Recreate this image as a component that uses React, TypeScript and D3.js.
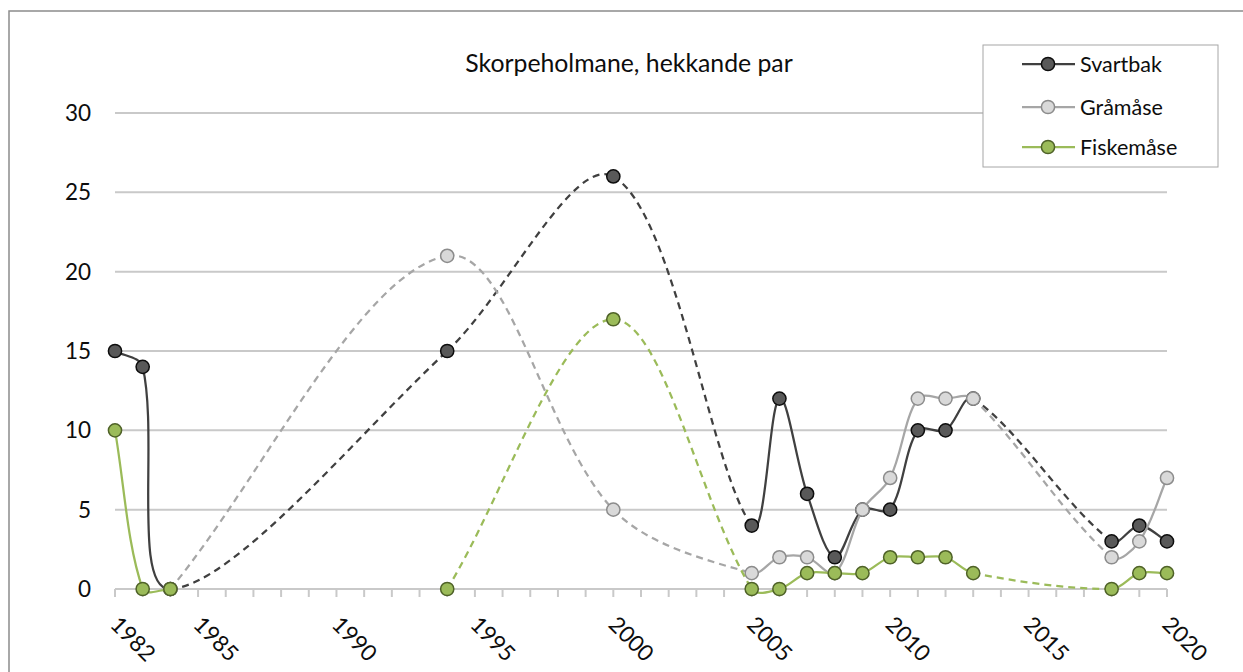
import React from "react";
import * as d3 from "d3";

const WIDTH = 1243;
const HEIGHT = 672;

const TITLE = "Skorpeholmane, hekkande par";
const seriesNames = ["Svartbak", "Gråmåse", "Fiskemåse"];

const svartbakYears = [1982, 1983, 1984, 1994, 2000, 2005, 2006, 2007, 2008, 2009, 2010, 2011, 2012, 2013, 2018, 2019, 2020];
const svartbakValues = [15, 14, 0, 15, 26, 4, 12, 6, 2, 5, 5, 10, 10, 12, 3, 4, 3];
const svartbakBreaks: number[] = [];

const gramaseYears = [1984, 1994, 2000, 2005, 2006, 2007, 2008, 2009, 2010, 2011, 2012, 2013, 2018, 2019, 2020];
const gramaseValues = [0, 21, 5, 1, 2, 2, 1, 5, 7, 12, 12, 12, 2, 3, 7];
const gramaseBreaks: number[] = [];

const fiskemaseYears = [1982, 1983, 1984, 1994, 2000, 2005, 2006, 2007, 2008, 2009, 2010, 2011, 2012, 2013, 2018, 2019, 2020];
const fiskemaseValues = [10, 0, 0, 0, 17, 0, 0, 1, 1, 1, 2, 2, 2, 1, 0, 1, 1];
const fiskemaseBreaks = [1984]; // no line drawn after this year

const xTickLabels = [1982, 1985, 1990, 1995, 2000, 2005, 2010, 2015, 2020];
const yTicks = [0, 5, 10, 15, 20, 25, 30];

const styles = [
  { line: "#404040", fill: "#595959", stroke: "#0d0d0d" },
  { line: "#a6a6a6", fill: "#d9d9d9", stroke: "#8c8c8c" },
  { line: "#9bbb59", fill: "#9bbb59", stroke: "#4f6228" },
];

const FONT = "Lato, 'Open Sans', sans-serif";

type P = { x: number; y: number; year: number };

function dist(a: P, b: P) {
  return Math.hypot(b.x - a.x, b.y - a.y);
}

function segments(pts: P[]) {
  const out: { d: string; dashed: boolean }[] = [];
  for (let i = 0; i < pts.length - 1; i++) {
    const p0 = pts[i - 1] ?? pts[i];
    const p1 = pts[i];
    const p2 = pts[i + 1];
    const p3 = pts[i + 2] ?? pts[i + 1];
    const d01 = dist(p0, p1);
    const d12 = dist(p1, p2);
    const d23 = dist(p2, p3);
    const f1 = d01 + d12 > 0 ? d12 / (3 * (d01 + d12)) : 0;
    const f2 = d12 + d23 > 0 ? d12 / (3 * (d12 + d23)) : 0;
    const c1x = p1.x + (p2.x - p0.x) * f1;
    const c1y = p1.y + (p2.y - p0.y) * f1;
    const c2x = p2.x - (p3.x - p1.x) * f2;
    const c2y = p2.y - (p3.y - p1.y) * f2;
    const path = d3.path();
    path.moveTo(p1.x, p1.y);
    path.bezierCurveTo(c1x, c1y, c2x, c2y, p2.x, p2.y);
    out.push({ d: path.toString(), dashed: p2.year - p1.year > 1 });
  }
  return out;
}

export default function App() {
  const x = d3.scaleLinear().domain([1982, 2020]).range([115, 1167]);
  const y = d3.scaleLinear().domain([0, 30]).range([589, 113]);
  const allYears = d3.range(1982, 2021);

  const data = [
    { years: svartbakYears, values: svartbakValues, breaks: svartbakBreaks },
    { years: gramaseYears, values: gramaseValues, breaks: gramaseBreaks },
    { years: fiskemaseYears, values: fiskemaseValues, breaks: fiskemaseBreaks },
  ];

  const series = data.map((s, si) => {
    const pts: P[] = s.years.map((yr, i) => ({ x: x(yr), y: y(s.values[i]), year: yr }));
    const runs: P[][] = [];
    let cur: P[] = [];
    pts.forEach((p) => {
      cur.push(p);
      if (s.breaks.includes(p.year)) {
        runs.push(cur);
        cur = [];
      }
    });
    if (cur.length) runs.push(cur);
    const segs = runs.flatMap((r) => segments(r));
    return { pts, segs, style: styles[si] };
  });

  const legendX = 983;
  const legendY = 45;
  const legendRows = [64, 107, 147];

  return (
    <svg
      width={WIDTH}
      height={HEIGHT}
      style={{ position: "absolute", left: 0, top: 0, background: "#fff" }}
      fontFamily={FONT}
    >
      <rect x={0} y={0} width={WIDTH} height={HEIGHT} fill="#fff" />
      <rect x={9} y={11} width={1400} height={900} fill="none" stroke="#8c8c8c" strokeWidth={1.5} />

      <text x={629} y={72} textAnchor="middle" fontSize={24.8} fill="#0d0d0d">
        {TITLE}
      </text>

      {yTicks.filter((t) => t > 0).map((t) => (
        <line key={t} x1={x(1982)} x2={x(2020)} y1={y(t)} y2={y(t)} stroke="#c9c9c9" strokeWidth={2} />
      ))}
      <line x1={x(1982)} x2={x(2020)} y1={y(0)} y2={y(0)} stroke="#c9c9c9" strokeWidth={2} />
      {allYears.map((yr) => (
        <line key={yr} x1={x(yr)} x2={x(yr)} y1={y(0)} y2={y(0) + 8} stroke="#c9c9c9" strokeWidth={2} />
      ))}

      {yTicks.map((t) => (
        <text key={t} x={91} y={y(t)} dy="0.36em" textAnchor="end" fontSize={22.5} fill="#0d0d0d">
          {t}
        </text>
      ))}
      {xTickLabels.map((yr) => (
        <text
          key={yr}
          transform={`translate(${x(yr) - 6},626) rotate(45)`}
          fontSize={22.5}
          fill="#0d0d0d"
        >
          {yr}
        </text>
      ))}

      {series.map((s, si) => (
        <g key={si}>
          {s.segs.map((sg, i) => (
            <path
              key={i}
              d={sg.d}
              fill="none"
              stroke={s.style.line}
              strokeWidth={2.25}
              strokeDasharray={sg.dashed ? "7,5" : undefined}
            />
          ))}
          {s.pts.map((p, i) => (
            <circle key={i} cx={p.x} cy={p.y} r={6.6} fill={s.style.fill} stroke={s.style.stroke} strokeWidth={1.5} />
          ))}
        </g>
      ))}

      <rect x={legendX} y={legendY} width={235} height={122} fill="#fff" stroke="#a6a6a6" strokeWidth={1} />
      {seriesNames.map((name, i) => (
        <g key={name}>
          <line x1={1022} x2={1075} y1={legendRows[i]} y2={legendRows[i]} stroke={styles[i].line} strokeWidth={2.25} />
          <circle cx={1048} cy={legendRows[i]} r={6.6} fill={styles[i].fill} stroke={styles[i].stroke} strokeWidth={1.5} />
          <text x={1080} y={legendRows[i]} dy="0.36em" fontSize={21.5} fill="#0d0d0d">
            {name}
          </text>
        </g>
      ))}
    </svg>
  );
}
